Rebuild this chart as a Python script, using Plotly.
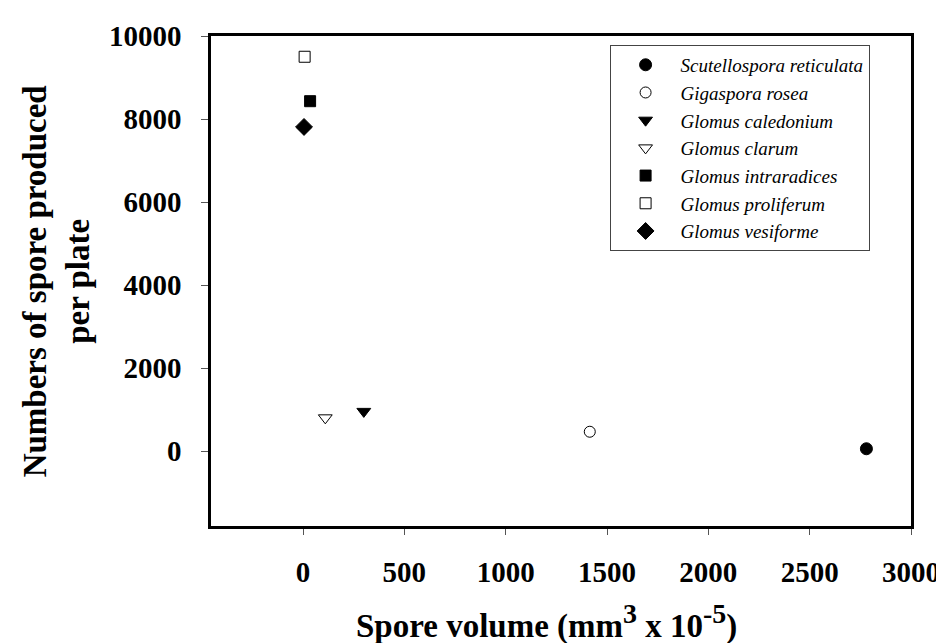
import plotly.graph_objects as go

# ---- data ----
species = [
    "Scutellospora reticulata",
    "Gigaspora rosea",
    "Glomus caledonium",
    "Glomus clarum",
    "Glomus intraradices",
    "Glomus proliferum",
    "Glomus vesiforme",
]
spore_volume = [2780, 1415, 300, 110, 35, 8, 5]
spores_per_plate = [60, 470, 960, 805, 8430, 9500, 7810]

symbols = ["circle", "circle-open", "triangle-down", "triangle-down-open",
           "square", "square-open", "diamond"]
sizes = [12, 11, 12, 12, 11, 11, 13]

x_ticks = [0, 500, 1000, 1500, 2000, 2500, 3000]
y_ticks = [0, 2000, 4000, 6000, 8000, 10000]

FONT = "Liberation Serif"

fig = go.Figure()
for name, xv, yv, sym, sz in zip(species, spore_volume, spores_per_plate, symbols, sizes):
    fig.add_trace(go.Scatter(
        x=[xv], y=[yv], mode="markers", name=name,
        marker=dict(symbol=sym, size=sz, color="black",
                    line=dict(color="black", width=1)),
    ))

W, H = 944, 643
L, R, T, B = 203, 35, 24, 125
PW, PH = W - L - R, H - T - B

sup = '<sup><span style="font-size:28px">{}</span></sup>'

fig.update_layout(
    width=W, height=H,
    margin=dict(l=L, r=R, t=T, b=B, pad=0),
    paper_bgcolor="white", plot_bgcolor="white",
    font=dict(family=FONT, color="black"),
    showlegend=True,
    legend=dict(
        x=(605 - L) / PW, y=(H - B - 33) / PH,
        xanchor="left", yanchor="top",
        bordercolor="#444", borderwidth=1, bgcolor="white",
        font=dict(family=FONT, size=19, style="italic", color="black"),
        itemwidth=60, tracegroupgap=0,
    ),
    xaxis=dict(
        range=[-454, 3000], tickvals=x_ticks, ticktext=[str(v) for v in x_ticks],
        showline=True, linecolor="black", linewidth=2.5, mirror=True,
        ticks="outside", ticklen=6, tickwidth=1, tickcolor="#555",
        showgrid=False, zeroline=False,
        tickfont=dict(family=FONT, size=29, weight="bold", color="black"),
        ticklabelstandoff=12,
    ),
    yaxis=dict(
        range=[-1800, 10000], tickvals=y_ticks, ticktext=[str(v) for v in y_ticks],
        showline=True, linecolor="black", linewidth=2.5, mirror=True,
        ticks="outside", ticklen=7, tickwidth=1, tickcolor="#555",
        showgrid=False, zeroline=False,
        tickfont=dict(family=FONT, size=29, weight="bold", color="black"),
        ticklabelstandoff=14,
    ),
    annotations=[
        dict(text="<b>Numbers of spore produced<br>per plate</b>",
             xref="paper", yref="paper", x=(47 - L) / PW, y=0.5,
             xanchor="center", yanchor="middle", textangle=-90, showarrow=False,
             font=dict(family=FONT, size=33, color="black")),
        dict(text="<b>Spore volume (mm" + sup.format("3") + " x 10" + sup.format("-5") + ")</b>",
             xref="paper", yref="paper", x=(541 - L) / PW,
             y=(H - B - 614) / PH,
             xanchor="center", yanchor="middle", showarrow=False,
             font=dict(family=FONT, size=33, color="black")),
    ],
)

fig.write_html("out.html")
